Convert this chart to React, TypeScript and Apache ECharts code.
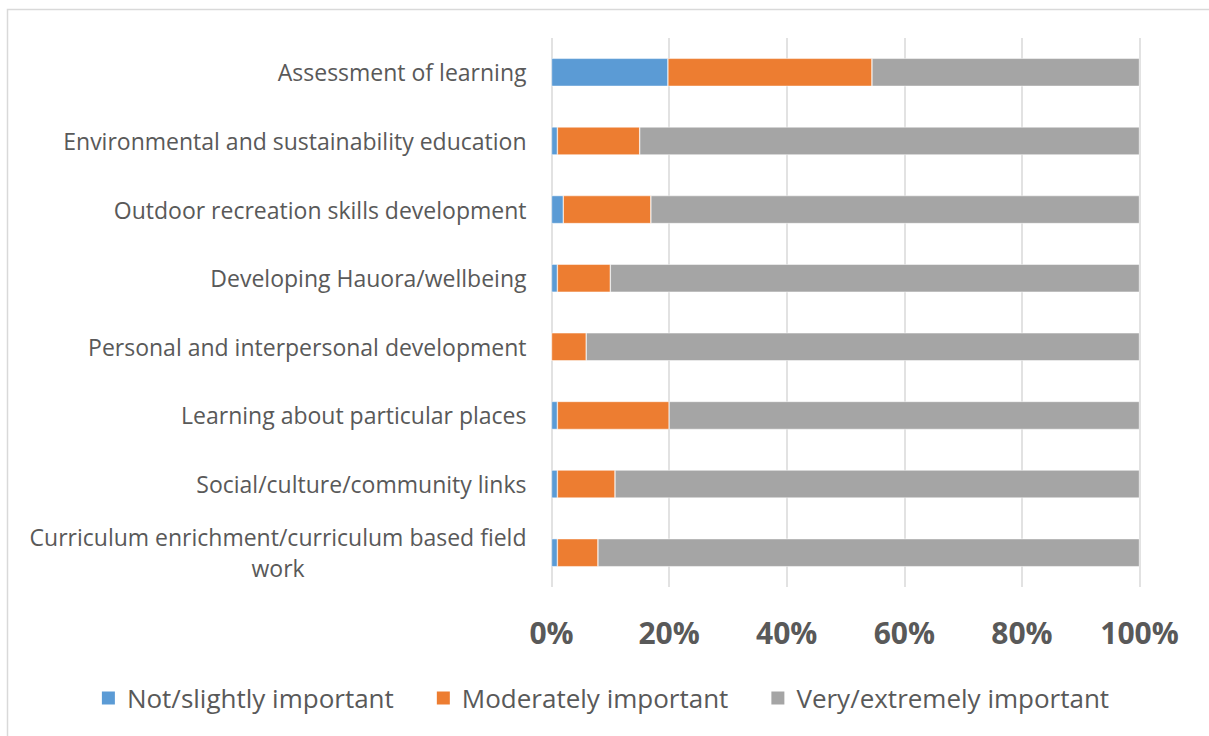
import React, { useEffect, useRef } from "react";
import * as echarts from "echarts";

const categories = [
  "Assessment of learning",
  "Environmental and sustainability education",
  "Outdoor recreation skills development",
  "Developing Hauora/wellbeing",
  "Personal and interpersonal development",
  "Learning about particular places",
  "Social/culture/community links",
  "Curriculum enrichment/curriculum based field work",
];

const seriesNames = ["Not/slightly important", "Moderately important", "Very/extremely important"];
const notSlightly = [19.8, 1.0, 2.0, 1.0, 0, 1.0, 1.0, 1.0];
const moderately = [34.7, 14.0, 14.9, 9.0, 5.9, 19.0, 9.8, 6.9];
const veryExtremely = [45.5, 85.0, 83.1, 90.0, 94.1, 80.0, 89.2, 92.1];
const xTicks = [0, 20, 40, 60, 80, 100];

const colors = ["#5B9BD5", "#ED7D31", "#A5A5A5"];
const FONT = "'Open Sans', sans-serif";

export default function App() {
  const ref = useRef<HTMLDivElement>(null);
  useEffect(() => {
    if (!ref.current) return;
    const chart = echarts.init(ref.current, undefined, { renderer: "svg" });
    const data = [notSlightly, moderately, veryExtremely];
    chart.setOption({
      animation: false,
      backgroundColor: "#ffffff",
      textStyle: { fontFamily: FONT },
      graphic: [
        {
          type: "rect",
          shape: { x: 7.5, y: 9.5, width: 1400, height: 900 },
          style: { fill: "none", stroke: "#d9d9d9", lineWidth: 1.5 },
          silent: true,
          z: -10,
        },
      ],
      grid: { left: 551.5, right: 69.5, top: 38, bottom: 149, containLabel: false },
      legend: {
        bottom: 20,
        left: "center",
        itemWidth: 15,
        itemHeight: 15,
        itemGap: 41,
        icon: "rect",
        textStyle: { fontFamily: FONT, fontSize: 26, color: "#595959", padding: [0, 0, 0, 6] },
        data: seriesNames,
      },
      xAxis: {
        type: "value",
        min: 0,
        max: 100,
        interval: 20,
        axisLine: { show: false },
        axisTick: { show: false },
        splitLine: { show: true, lineStyle: { color: "#d9d9d9", width: 1.5 } },
        axisLabel: {
          margin: 30,
          fontFamily: FONT,
          fontSize: 30,
          fontWeight: "bold",
          color: "#595959",
          formatter: (v: number) => (xTicks.includes(v) ? v + "%" : ""),
        },
      },
      yAxis: {
        type: "category",
        inverse: true,
        data: categories,
        axisLine: { show: false },
        axisTick: { show: false },
        axisLabel: {
          margin: 25,
          fontFamily: FONT,
          fontSize: 23,
          color: "#595959",
          formatter: (v: string) => {
            if (v === "Curriculum enrichment/curriculum based field work") {
              return "{a|Curriculum enrichment/curriculum based field}\n{b|work}";
            }
            return v;
          },
          rich: {
            a: { fontFamily: FONT, fontSize: 23, color: "#595959", lineHeight: 31, align: "right" },
            b: { fontFamily: FONT, fontSize: 23, color: "#595959", lineHeight: 31, align: "center" },
          },
        },
      },
      series: seriesNames.map((name, i) => ({
        name,
        type: "bar",
        stack: "total",
        barWidth: 28,
        data: data[i],
        itemStyle: { color: colors[i], borderColor: "#ffffff", borderWidth: 0.5 },
      })),
    });
    return () => chart.dispose();
  }, []);
  return <div ref={ref} style={{ position: "absolute", left: 0, top: 0, width: 1209, height: 736 }} />;
}
